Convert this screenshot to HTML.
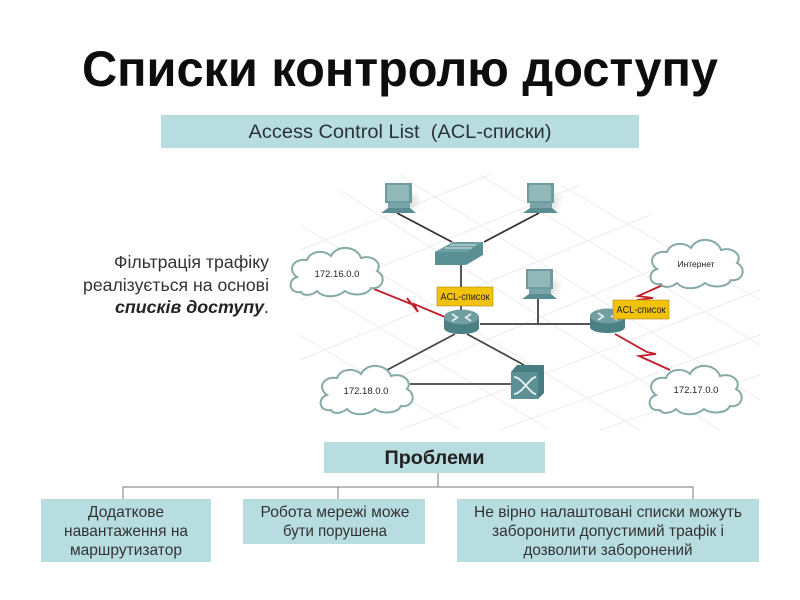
<!DOCTYPE html>
<html><head><meta charset="utf-8"><style>
html,body{margin:0;padding:0;background:#fff;width:800px;height:600px;overflow:hidden}
svg{display:block}
text{font-family:"Liberation Sans",sans-serif;white-space:pre}
</style></head><body>
<svg width="800" height="600" viewBox="0 0 800 600" xmlns="http://www.w3.org/2000/svg">
<defs>
<filter id="b"><feGaussianBlur stdDeviation="0.35"/></filter>
<filter id="d"><feGaussianBlur stdDeviation="0.35"/></filter>
<filter id="s"><feGaussianBlur stdDeviation="3"/></filter>
<g id="pc">
<path d="M12 2 L28 8 L22 22 L6 20Z" fill="#bbb" opacity=".4" filter="url(#s)" transform="translate(6,6)"/>
<rect x="0" y="0" width="27" height="20" fill="#6d9b9e"/>
<rect x="2" y="2" width="22" height="16" fill="#93b8ba"/>
<rect x="3" y="20" width="22" height="5" fill="#7aa5a8"/>
<path d="M3 25 H25 L31 30 H-4Z" fill="#5a8d91"/>
</g>
<g id="cloud">
<path d="M-36 22 C-48 24 -50 10 -40 7 C-50 0 -44 -12 -30 -10 C-26 -20 -12 -20 -6 -14 C0 -26 20 -24 24 -12 C36 -16 46 -6 40 1 C50 6 46 20 34 18 C30 26 14 26 8 21 C0 28 -14 28 -20 21 C-26 26 -34 26 -36 22Z" fill="#fff" stroke="#86aaa8" stroke-width="2"/>
</g>
<g id="router">
<path d="M0 6 V17 C0 25 35 25 35 17 V6Z" fill="#4b8085"/>
<ellipse cx="17.500" cy="6" rx="17.500" ry="7.500" fill="#6f9ea1"/>
<path d="M8 3 L14 7 M27 3 L21 7 M8 10 L14 6 M27 10 L21 6" stroke="#dfeeee" stroke-width="1.800" fill="none"/>
</g>
</defs>

<rect x="161" y="115" width="478" height="33" fill="#b8dde1"/>
<text x="400" y="138" font-size="19" text-anchor="middle" fill="#2c3338" textLength="303" lengthAdjust="spacingAndGlyphs" filter="url(#b)">Access Control List  (ACL-списки)</text>
<text x="400" y="86" font-size="50" font-weight="bold" text-anchor="middle" fill="#0a0a0a" textLength="636" lengthAdjust="spacingAndGlyphs" filter="url(#b)">Списки контролю доступу</text>

<text x="269" y="268" font-size="17.500" text-anchor="end" fill="#333" textLength="155" lengthAdjust="spacingAndGlyphs" filter="url(#b)">Фільтрація трафіку</text>
<text x="269" y="291" font-size="17.500" text-anchor="end" fill="#333" textLength="186" lengthAdjust="spacingAndGlyphs" filter="url(#b)">реалізується на основі</text>
<text x="269" y="313" font-size="17.500" text-anchor="end" fill="#222" textLength="154" lengthAdjust="spacingAndGlyphs" filter="url(#b)"><tspan font-weight="bold" font-style="italic">списків доступу</tspan>.</text>

<g filter="url(#d)">
<!-- floor grid -->
<g stroke="#ececec" stroke-width="1" fill="none">
<path d="M300 250 L490 175 M300 300 L580 185 M300 360 L650 215 M320 410 L700 250 M400 430 L760 290 M500 430 L760 335 M600 430 L760 375"/>
<path d="M340 190 L720 430 M400 175 L760 400 M480 175 L760 345 M560 185 L760 300 M300 225 L640 430 M300 280 L550 430 M300 335 L460 430"/>
</g>

<!-- connectors -->
<g stroke="#333" stroke-width="1.800" fill="none">
<path d="M397 213 L452 242"/>
<path d="M539 213 L484 242"/>
</g>
<g stroke="#444" stroke-width="1.800" fill="none">
<path d="M461 264 V312"/>
<path d="M480 324 H600" stroke="#555" stroke-width="2"/>
<path d="M538 298 V324" stroke="#555" stroke-width="2"/>
<path d="M455 334 L387 370"/>
<path d="M467 334 L524 365"/>
<path d="M410 384 H515"/>
</g>
<!-- red links -->
<g stroke="#c41f2c" stroke-width="1.800" fill="none" stroke-linejoin="miter">
<path d="M374 289 L411 304 L407 298 L418 312 L414 304 L445 317"/>
<path d="M665 284 L638 296 L653 298 L637 300"/>
<path d="M615 334 L647 352 L656 354 L639 356 L670 370"/>
</g>

<use href="#pc" x="385" y="183"/>
<use href="#pc" x="527" y="183"/>
<use href="#pc" x="526" y="269"/>

<!-- switch -->
<path d="M435 252 L453 242 H483 V255 L466 265 H435Z" fill="#5a9094"/>
<path d="M435 252 L453 242 H483 L466 252Z" fill="#6f9fa2"/>
<path d="M445 248 H472 M450 245 H476" stroke="#cfe2e2" stroke-width="1"/>

<use href="#router" x="444" y="311"/>
<use href="#router" x="590" y="310"/>

<!-- atm switch -->
<path d="M511 372 L517 365 H544 V393 L538 399 H511Z" fill="#477b80"/>
<rect x="511" y="372" width="27" height="27" fill="#5d9094"/>
<path d="M514 377 C522 377 530 394 536 394 M514 394 C522 394 530 377 536 377" stroke="#e8f2f2" stroke-width="1.800" fill="none"/>

<rect x="437" y="287" width="56" height="19" fill="#f2c30e" stroke="#b08a10" stroke-width=".6"/>
<text x="465" y="300" font-size="10.500" text-anchor="middle" fill="#222" textLength="49" lengthAdjust="spacingAndGlyphs">ACL-список</text>
<rect x="613" y="300" width="56" height="19" fill="#f2c30e" stroke="#b08a10" stroke-width=".6"/>
<text x="641" y="313" font-size="10.500" text-anchor="middle" fill="#222" textLength="49" lengthAdjust="spacingAndGlyphs">ACL-список</text>

<use href="#cloud" x="337" y="270"/>
<use href="#cloud" x="367" y="388"/>
<use href="#cloud" x="697" y="262"/>
<use href="#cloud" x="696" y="388"/>
<text x="337" y="277" font-size="9.500" text-anchor="middle" fill="#222">172.16.0.0</text>
<text x="366" y="394" font-size="9.500" text-anchor="middle" fill="#222">172.18.0.0</text>
<text x="696" y="267" font-size="8.500" text-anchor="middle" fill="#222">Интернет</text>
<text x="696" y="393" font-size="9.500" text-anchor="middle" fill="#222">172.17.0.0</text>
</g>

<!-- hierarchy -->
<g stroke="#777" stroke-width="1" fill="none">
<path d="M438 473 V487 M123 499 V487 H693 V499 M338 487 V499"/>
</g>
<rect x="324" y="442" width="221" height="31" fill="#b8dde1"/>
<text x="434.500" y="464" font-size="19" font-weight="bold" text-anchor="middle" fill="#222" textLength="100" lengthAdjust="spacingAndGlyphs" filter="url(#b)">Проблеми</text>
<rect x="41" y="499" width="170" height="63" fill="#b8dde1"/>
<rect x="243" y="499" width="182" height="45" fill="#b8dde1"/>
<rect x="457" y="499" width="302" height="63" fill="#b8dde1"/>
<g font-size="16" text-anchor="middle" fill="#333" filter="url(#b)">
<text x="126" y="517" textLength="76" lengthAdjust="spacingAndGlyphs">Додаткове</text>
<text x="126" y="536" textLength="124" lengthAdjust="spacingAndGlyphs">навантаження на</text>
<text x="126" y="555" textLength="112" lengthAdjust="spacingAndGlyphs">маршрутизатор</text>
<text x="335" y="517" textLength="149" lengthAdjust="spacingAndGlyphs">Робота мережі може</text>
<text x="335" y="536" textLength="104" lengthAdjust="spacingAndGlyphs">бути порушена</text>
<text x="608" y="517" textLength="268" lengthAdjust="spacingAndGlyphs">Не вірно налаштовані списки можуть</text>
<text x="608" y="536" textLength="232" lengthAdjust="spacingAndGlyphs">заборонити допустимий трафік і</text>
<text x="608" y="555" textLength="169" lengthAdjust="spacingAndGlyphs">дозволити заборонений</text>
</g>
</svg>
</body></html>
